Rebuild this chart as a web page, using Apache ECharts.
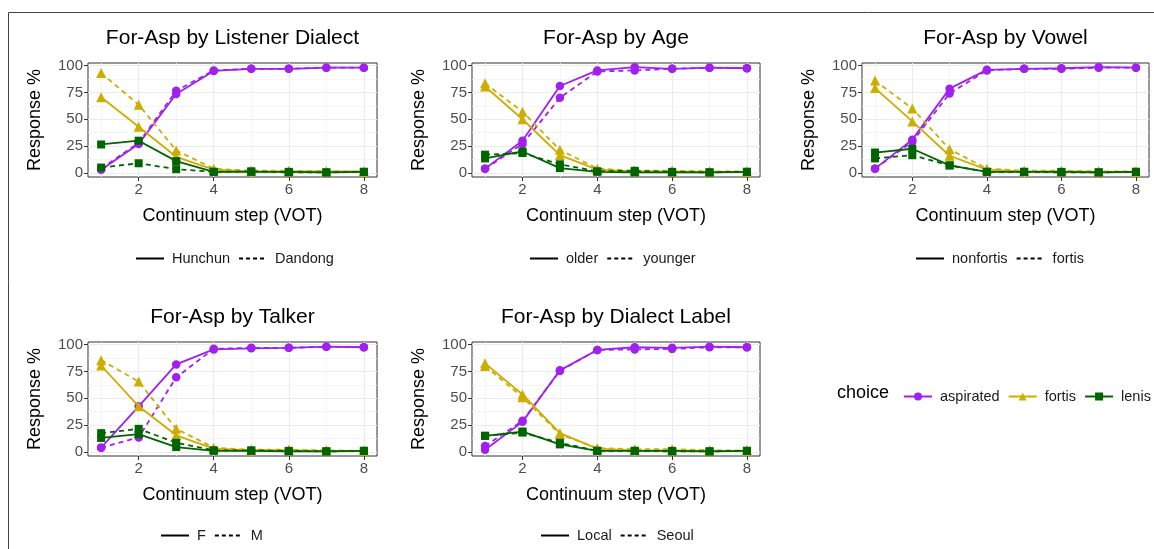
<!DOCTYPE html>
<html>
<head>
<meta charset="utf-8">
<script src="https://cdn.jsdelivr.net/npm/echarts@6/dist/echarts.min.js"></script>
<style>html,body{margin:0;padding:0;background:#fff;}#chart{width:1154px;height:549px;}</style>
</head>
<body>
<div id="chart"></div>
<script>
// ---- data ----
const steps = [1, 2, 3, 4, 5, 6, 7, 8];
const choices = ['aspirated', 'fortis', 'lenis'];
const xTicks = [2, 4, 6, 8];
const yTicks = [0, 25, 50, 75, 100];

const panelTitles = ['For-Asp by Listener Dialect', 'For-Asp by Age', 'For-Asp by Vowel', 'For-Asp by Talker', 'For-Asp by Dialect Label'];
const groupLabels = [['Hunchun', 'Dandong'], ['older', 'younger'], ['nonfortis', 'fortis'], ['F', 'M'], ['Local', 'Seoul']];

// Listener Dialect
const dialectHunchunAsp = [3, 27, 73.5, 95, 97, 97, 98, 98];
const dialectDandongAsp = [4, 28, 76.5, 95.5, 97, 97, 98, 98];
const dialectHunchunFor = [70.5, 43, 15, 3, 1.5, 1.5, 1.5, 1.5];
const dialectDandongFor = [93, 63.5, 21, 4, 2, 2, 1.5, 1];
const dialectHunchunLen = [26.5, 30, 11, 1, 1, 1, 0.5, 1];
const dialectDandongLen = [5, 9, 3.5, 1, 1.5, 0.5, 0.5, 1];
// Age
const ageOlderAsp = [4, 30, 81, 95.5, 98.5, 97, 98, 97.5];
const ageYoungerAsp = [4, 27, 70, 94.5, 95.5, 97, 98, 97.5];
const ageOlderFor = [80.5, 50, 16.5, 3, 1.5, 1.5, 1, 1];
const ageYoungerFor = [83.5, 57, 21.5, 4, 2, 2, 1.5, 1.5];
const ageOlderLen = [13.5, 20, 4.5, 1, 0.5, 0.5, 0.5, 1];
const ageYoungerLen = [17, 18.5, 8, 1.5, 2, 1, 0.5, 1];
// Vowel
const vowelNonfortisAsp = [4, 31, 78.5, 96, 97, 97.5, 98.5, 98];
const vowelFortisAsp = [4, 29, 74, 95.5, 97, 97, 98, 98];
const vowelNonfortisFor = [79, 48, 16, 3, 1.5, 1.5, 1, 1];
const vowelFortisFor = [86, 60, 22, 4, 2, 2, 1.5, 1.5];
const vowelNonfortisLen = [19, 22.5, 7, 1, 1, 1, 0.5, 1];
const vowelFortisLen = [13.5, 16.5, 7, 1, 1, 0.5, 0.5, 1];
// Talker
const talkerFAsp = [4, 42.5, 81.5, 95.5, 96.5, 97, 98, 97.5];
const talkerMAsp = [4, 13.5, 69.5, 96, 97, 97, 98, 97.5];
const talkerFFor = [80.5, 42.5, 15.5, 3, 1.5, 1.5, 1, 1];
const talkerMFor = [85.5, 65.5, 21.5, 4, 2, 2, 1.5, 1];
const talkerFLen = [13, 16.5, 4.5, 1, 1, 0.5, 0.5, 1];
const talkerMLen = [17.5, 21.5, 8.5, 1.5, 1.5, 1, 0.5, 1];
// Dialect Label
const labelLocalAsp = [2, 28, 76, 95, 97.5, 97, 98, 97.5];
const labelSeoulAsp = [5.5, 29, 75.5, 95, 95.5, 96, 97.5, 97.5];
const labelLocalFor = [82.5, 53.5, 17.5, 3, 1.5, 1.5, 1, 1];
const labelSeoulFor = [80, 51, 16.5, 3.5, 2.5, 2.5, 1.5, 1.5];
const labelLocalLen = [15, 19, 7, 1, 1, 1, 0.5, 1];
const labelSeoulLen = [15, 18, 8.5, 1, 1, 0.5, 0.5, 1];

const panelData = [
  [[dialectHunchunAsp, dialectDandongAsp], [dialectHunchunFor, dialectDandongFor], [dialectHunchunLen, dialectDandongLen]],
  [[ageOlderAsp, ageYoungerAsp], [ageOlderFor, ageYoungerFor], [ageOlderLen, ageYoungerLen]],
  [[vowelNonfortisAsp, vowelFortisAsp], [vowelNonfortisFor, vowelFortisFor], [vowelNonfortisLen, vowelFortisLen]],
  [[talkerFAsp, talkerMAsp], [talkerFFor, talkerMFor], [talkerFLen, talkerMLen]],
  [[labelLocalAsp, labelSeoulAsp], [labelLocalFor, labelSeoulFor], [labelLocalLen, labelSeoulLen]]
];

// ---- layout / style ----
const colors = { aspirated: '#A020F0', fortis: '#CDAD00', lenis: '#006400' };
const symbols = { aspirated: 'circle', fortis: 'triangle', lenis: 'rect' };
const symbolSizes = { aspirated: 8.5, fortis: 10, lenis: 8 };
const grids = [
  { left: 88, top: 63, width: 289, height: 114 },
  { left: 472, top: 63, width: 288, height: 114 },
  { left: 862, top: 63, width: 287, height: 114 },
  { left: 88, top: 342, width: 289, height: 114 },
  { left: 472, top: 342, width: 288, height: 114 }
];
const legendPos = [
  { left: 135, top: 251 }, { left: 529, top: 251 }, { left: 915, top: 251 },
  { left: 160, top: 528 }, { left: 540, top: 528 }
];
const FONT = 'Liberation Sans, Arial, sans-serif';
const xMin = 0.65, xMax = 8.35, yMin = -3.8, yMax = 102.4;

const option = {
  animation: false,
  backgroundColor: '#fff',
  textStyle: { fontFamily: FONT },
  title: [],
  legend: [],
  grid: [],
  xAxis: [],
  yAxis: [],
  series: [],
  graphic: [{
    type: 'rect', silent: true, z: -10,
    shape: { x: 8.5, y: 12.5, width: 1200, height: 600 },
    style: { fill: 'none', stroke: '#444', lineWidth: 1 }
  }]
};

const legendLabelMap = {};

grids.forEach((g, i) => {
  option.grid.push(Object.assign({ show: true, borderColor: '#333', borderWidth: 1, backgroundColor: '#fff', outerBoundsMode: 'none', containLabel: false }, g));
  option.title.push({
    text: panelTitles[i], left: g.left + g.width / 2, textAlign: 'center', top: g.top - 35, padding: 0,
    textStyle: { fontSize: 21, fontWeight: 'normal', color: '#000', fontFamily: FONT }
  });
  // main x axis
  option.xAxis.push({
    type: 'value', gridIndex: i, min: xMin, max: xMax,
    axisLine: { show: false, onZero: false },
    axisTick: { show: true, length: 4, customValues: xTicks, lineStyle: { color: '#333' } },
    axisLabel: { customValues: xTicks, color: '#4d4d4d', fontSize: 15, margin: 5, fontFamily: FONT },
    splitLine: { show: true, lineStyle: { color: '#ebebeb', width: 1.1 } },
    name: 'Continuum step (VOT)', nameLocation: 'middle', nameGap: 30,
    nameTextStyle: { fontSize: 18, color: '#000', fontFamily: FONT }
  });
  // minor x grid
  option.xAxis.push({
    type: 'value', gridIndex: i, min: xMin, max: xMax,
    axisLine: { show: false, onZero: false }, axisLabel: { show: false },
    axisTick: { show: false, customValues: [1, 3, 5, 7] },
    splitLine: { show: true, lineStyle: { color: '#f0f0f0', width: 0.7 } }
  });
  option.yAxis.push({
    type: 'value', gridIndex: i, min: yMin, max: yMax,
    axisLine: { show: false, onZero: false },
    axisTick: { show: true, length: 4, customValues: yTicks, lineStyle: { color: '#333' } },
    axisLabel: { customValues: yTicks, color: '#4d4d4d', fontSize: 15, margin: 5, fontFamily: FONT },
    splitLine: { show: true, lineStyle: { color: '#ebebeb', width: 1.1 } },
    name: 'Response %', nameLocation: 'middle', nameGap: 44,
    nameTextStyle: { fontSize: 18, color: '#000', fontFamily: FONT }
  });
  option.yAxis.push({
    type: 'value', gridIndex: i, min: yMin, max: yMax,
    axisLine: { show: false, onZero: false }, axisLabel: { show: false },
    axisTick: { show: false, customValues: [12.5, 37.5, 62.5, 87.5] },
    splitLine: { show: true, lineStyle: { color: '#f0f0f0', width: 0.7 } }
  });

  // data series
  choices.forEach((c, ci) => {
    [0, 1].forEach(gi => {
      option.series.push({
        type: 'line', name: c, xAxisIndex: 2 * i, yAxisIndex: 2 * i,
        data: steps.map((s, k) => [s, panelData[i][ci][gi][k]]),
        symbol: symbols[c], symbolSize: symbolSizes[c],
        itemStyle: { color: colors[c] },
        lineStyle: { color: colors[c], width: 1.8, type: gi === 0 ? 'solid' : [5, 4] },
        z: 3 + ci
      });
    });
  });

  // dummy series for line-type legend
  const names = [];
  [0, 1].forEach(gi => {
    const nm = 'lt_' + i + '_' + gi;
    legendLabelMap[nm] = groupLabels[i][gi];
    names.push(nm);
    option.series.push({
      type: 'line', name: nm, xAxisIndex: 2 * i, yAxisIndex: 2 * i, data: [],
      symbol: 'none', itemStyle: { color: '#000' },
      lineStyle: { color: '#000', width: 1.6, type: gi === 0 ? 'solid' : [4, 3] }
    });
  });
  option.legend.push({
    data: names, left: legendPos[i].left, top: legendPos[i].top, orient: 'horizontal',
    itemWidth: 28, itemHeight: 14, itemGap: 8, padding: 0, selectedMode: false,
    itemStyle: { opacity: 0, color: 'rgba(0,0,0,0)', borderWidth: 0 },
    formatter: n => legendLabelMap[n],
    textStyle: { fontSize: 14.5, color: '#1a1a1a', fontFamily: FONT, padding: [0, 0, 0, 3] }
  });
});

// choice legend
option.title.push({
  text: 'choice', left: 837, top: 384, padding: 0,
  textStyle: { fontSize: 18, fontWeight: 'normal', color: '#000', fontFamily: FONT }
});
option.legend.push({
  data: choices, left: 903, top: 389, orient: 'horizontal',
  itemWidth: 28, itemHeight: 10, itemGap: 8, padding: 0, selectedMode: false,
  textStyle: { fontSize: 14.5, color: '#1a1a1a', fontFamily: FONT, padding: [0, 0, 0, 3] }
});

const chart = echarts.init(document.getElementById('chart'), null, { renderer: 'canvas' });
chart.setOption(option);
</script>
</body>
</html>
